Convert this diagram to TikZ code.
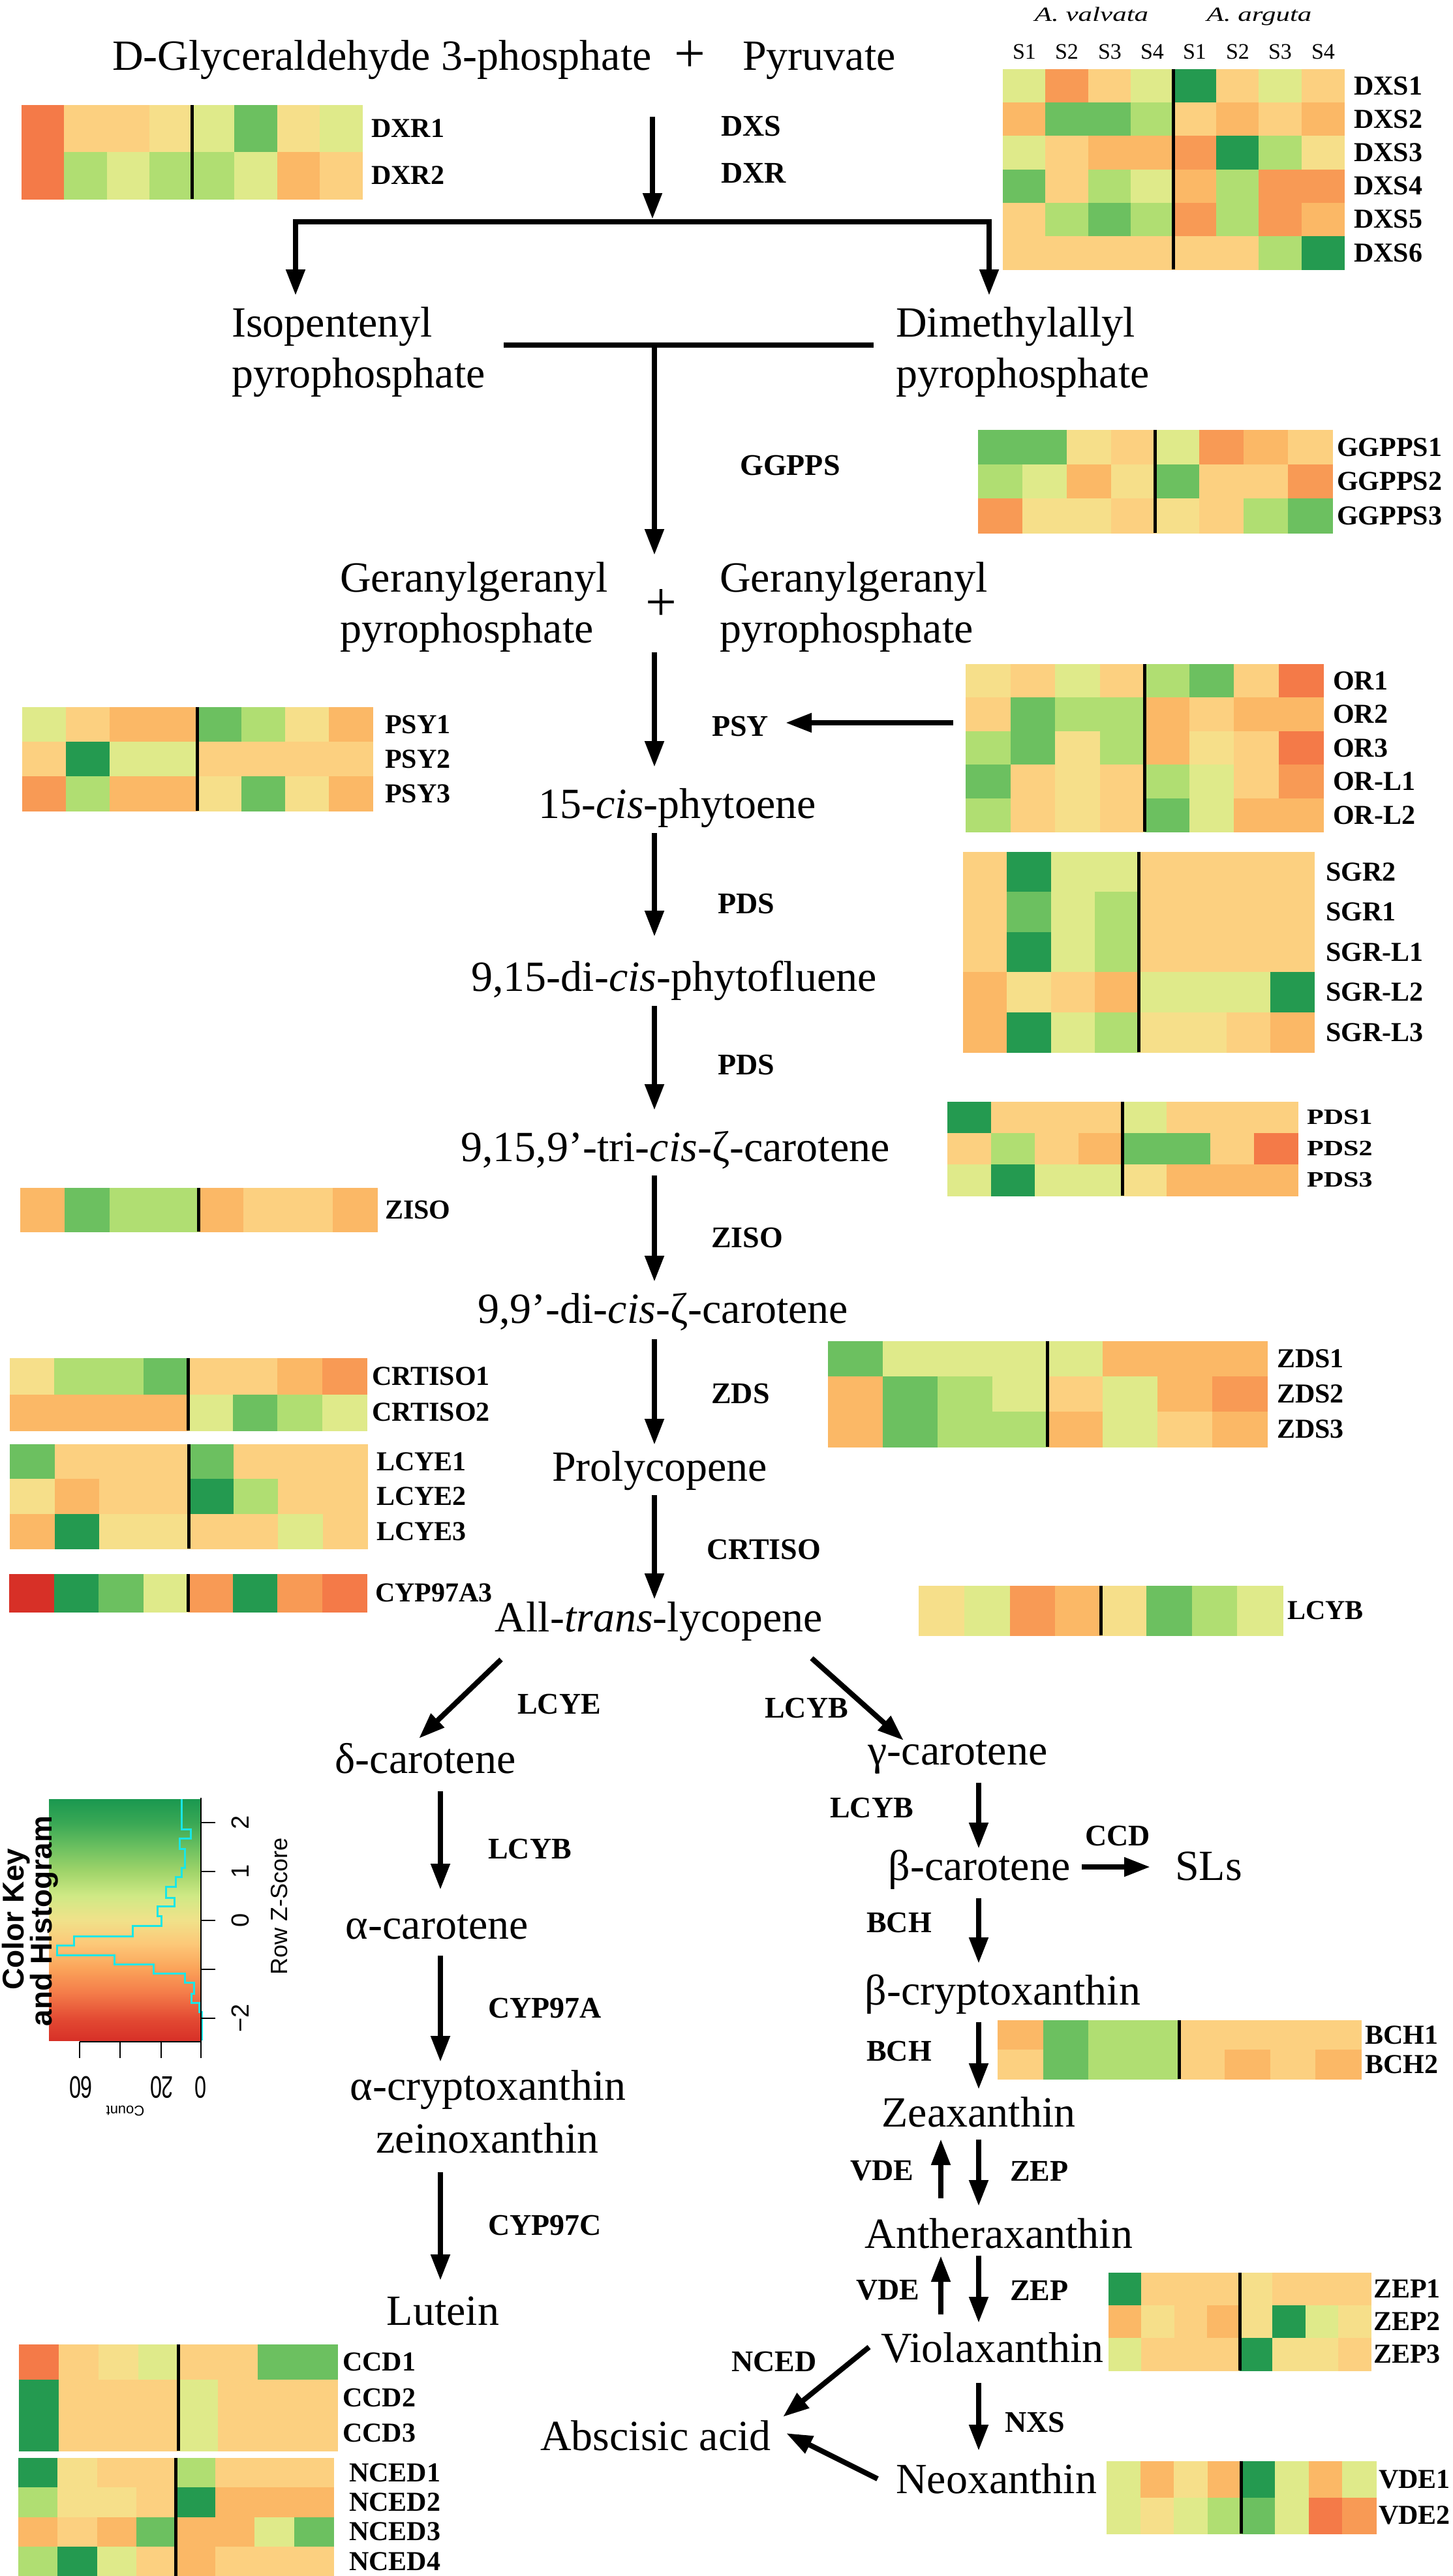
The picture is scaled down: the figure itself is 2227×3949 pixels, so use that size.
\documentclass[tikz,border=0pt]{standalone}
\usepackage{fontspec}
\setmainfont{Liberation Serif}
\newfontfamily\keyfont{Liberation Sans}
\usetikzlibrary{arrows.meta}
\definecolor{c0}{HTML}{D73027}
\definecolor{c1}{HTML}{F47A48}
\definecolor{c2}{HTML}{F89A55}
\definecolor{c3}{HTML}{FBB866}
\definecolor{c4}{HTML}{FCD080}
\definecolor{c5}{HTML}{F6DF8A}
\definecolor{c6}{HTML}{DFEA8A}
\definecolor{c7}{HTML}{B0DE72}
\definecolor{c8}{HTML}{6CC060}
\definecolor{c9}{HTML}{249A50}
\definecolor{kc0}{HTML}{D73027}
\definecolor{kc1}{HTML}{E34A33}
\definecolor{kc2}{HTML}{F47D4A}
\definecolor{kc3}{HTML}{FBA45A}
\definecolor{kc4}{HTML}{FCC878}
\definecolor{kc5}{HTML}{F0E28A}
\definecolor{kc6}{HTML}{CFE985}
\definecolor{kc7}{HTML}{A0D46A}
\definecolor{kc8}{HTML}{6CC060}
\definecolor{kc9}{HTML}{3AA855}
\definecolor{kc10}{HTML}{1A9850}
\definecolor{histc}{HTML}{19E6E6}
\pgfdeclareverticalshading{zkey}{100bp}{color(0bp)=(kc0); color(25bp)=(kc0); color(29.5bp)=(kc1); color(35bp)=(kc2); color(40bp)=(kc3); color(45bp)=(kc4); color(50bp)=(kc5); color(55bp)=(kc6); color(60bp)=(kc7); color(65bp)=(kc8); color(70bp)=(kc9); color(75bp)=(kc10); color(100bp)=(kc10)}
\newcommand{\pdsq}[1]{\scalebox{1}[0.8]{#1}}
% #1 x0, #2 y0, #3 x1, #4 y1, #5 rows, #6 label x, #7 rows list, #8 label wrapper
\newcommand{\heatmap}[8]{%
  \pgfmathsetmacro\hmw{(#3-#1)/8}%
  \pgfmathsetmacro\hmh{(#4-#2)/#5}%
  \foreach \rw/\lab [count=\kk from 0] in {#7}{%
    \foreach \hmc [count=\ii from 0] in \rw {%
      \fill[c\hmc] ({#1+\ii*\hmw},{#2+\kk*\hmh}) rectangle ({#1+(\ii+1)*\hmw+0.8},{#2+(\kk+1)*\hmh+0.8});
    }%
    \node[hlab] (h\lab) at (#6,{#2+(\kk+0.5)*\hmh}) {#8{\lab}};
  }%
  \draw[divider] ({(#1+#3)/2},#2) -- ({(#1+#3)/2},#4);
}
\begin{document}
\begin{tikzpicture}[x=1pt,y=-1pt,
  txt/.style={inner sep=0pt, font=\fontsize{66}{79}\selectfont, anchor=base},
  txtl/.style={txt, anchor=base west},
  lab/.style={inner sep=0pt, font=\fontsize{46}{50}\selectfont\bfseries, anchor=west},
  hlab/.style={inner sep=0pt, font=\fontsize{42}{46}\selectfont\bfseries, anchor=west},
  arr/.style={line width=8pt, -{Triangle[width=28pt,length=40pt]}},
  barline/.style={line width=8pt, line cap=rect},
  divider/.style={line width=5pt, black},
  keytxt/.style={inner sep=0pt, font=\keyfont\fontsize{38}{42}\selectfont},
]
\useasboundingbox (0,0) rectangle (2227,3949);
\fill[white] (0,0) rectangle (2227,3949);

% ---------------- heatmaps ----------------
\heatmap{33}{161}{555}{305}{2}{569}{{1,4,4,5,6,8,5,6}/DXR1,{1,7,6,7,7,6,3,4}/DXR2}{\mbox}
\heatmap{1537}{106}{2060}{413}{6}{2075}{%
{6,2,4,6,9,4,6,4}/DXS1,%
{3,8,8,7,4,3,4,3}/DXS2,%
{6,4,3,3,2,9,7,5}/DXS3,%
{8,4,7,6,3,7,2,2}/DXS4,%
{4,7,8,7,2,7,2,3}/DXS5,%
{4,4,4,4,4,4,7,9}/DXS6}{\mbox}
\heatmap{1499}{659}{2042}{817}{3}{2049}{{8,8,5,4,6,2,3,4}/GGPPS1,{7,6,3,5,8,4,4,2}/GGPPS2,{2,5,5,4,5,4,7,8}/GGPPS3}{\mbox}
\heatmap{34}{1084}{571}{1243}{3}{590}{{6,4,3,3,8,7,5,3}/PSY1,{4,9,6,6,4,4,4,4}/PSY2,{2,7,3,3,5,8,5,3}/PSY3}{\mbox}
\heatmap{1480}{1018}{2028}{1275}{5}{2043}{%
{5,4,6,4,7,8,4,1}/OR1,%
{4,8,7,7,3,4,3,3}/OR2,%
{7,8,5,7,3,5,4,1}/OR3,%
{8,4,5,4,7,6,4,2}/OR-L1,%
{7,4,5,4,8,6,3,3}/OR-L2}{\mbox}
\heatmap{1476}{1306}{2014}{1613}{5}{2032}{%
{4,9,6,6,4,4,4,4}/SGR2,%
{4,8,6,7,4,4,4,4}/SGR1,%
{4,9,6,7,4,4,4,4}/SGR-L1,%
{3,5,4,3,6,6,6,9}/SGR-L2,%
{3,9,6,7,5,5,4,3}/SGR-L3}{\mbox}
\heatmap{1452}{1689}{1989}{1833}{3}{2003}{{9,4,4,4,6,4,4,4}/PDS1,{4,7,4,3,8,8,4,1}/PDS2,{6,9,6,6,5,3,3,3}/PDS3}{\pdsq}
\heatmap{31}{1821}{578}{1888}{1}{590}{{3,8,7,7,3,4,4,3}/ZISO}{\mbox}
\heatmap{15}{2082}{562}{2193}{2}{570}{{5,7,7,8,4,4,3,2}/CRTISO1,{3,3,3,3,6,8,7,6}/CRTISO2}{\mbox}
\heatmap{15}{2214}{563}{2374}{3}{577}{{8,4,4,4,8,4,4,4}/LCYE1,{5,3,4,4,9,7,4,4}/LCYE2,{3,9,5,5,4,4,6,4}/LCYE3}{\mbox}
\heatmap{14}{2413}{562}{2471}{1}{575}{{0,9,8,6,2,9,2,1}/CYP97A3}{\mbox}
\heatmap{1269}{2056}{1942}{2218}{3}{1957}{{8,6,6,6,6,3,3,3}/ZDS1,{3,8,7,6,4,6,3,2}/ZDS2,{3,8,7,7,3,6,4,3}/ZDS3}{\mbox}
\heatmap{1408}{2431}{1966}{2507}{1}{1973}{{5,6,2,3,5,8,7,6}/LCYB}{\mbox}
\heatmap{1529}{3097}{2086}{3187}{2}{2092}{{3,8,7,7,4,4,4,4}/BCH1,{4,8,7,7,4,3,4,3}/BCH2}{\mbox}
\heatmap{1699}{3484}{2101}{3634}{3}{2105}{{9,4,4,4,5,4,4,4}/ZEP1,{3,5,4,3,5,9,6,5}/ZEP2,{6,4,4,4,9,5,5,4}/ZEP3}{\mbox}
\heatmap{1696}{3773}{2109}{3884}{2}{2113}{{6,3,5,3,9,6,3,6}/VDE1,{6,5,6,7,8,6,1,2}/VDE2}{\mbox}
\heatmap{29}{3594}{517}{3757}{3}{525}{{1,4,5,6,4,4,8,8}/CCD1,{9,4,4,4,6,4,4,4}/CCD2,{9,4,4,4,6,4,4,4}/CCD3}{\mbox}
\heatmap{28}{3768}{511}{3949}{4}{535}{{9,5,4,4,7,4,4,4}/NCED1,{7,5,5,4,9,3,3,3}/NCED2,{3,4,3,8,3,3,6,8}/NCED3,{7,9,6,4,3,4,4,4}/NCED4}{\mbox}

% DXS header
\node[inner sep=0pt, anchor=base, font=\fontsize{43}{50}\selectfont\itshape] (hdrV) at (1673,32) {\scalebox{1}[0.72]{A. valvata}};
\node[inner sep=0pt, anchor=base, font=\fontsize{43}{50}\selectfont\itshape] (hdrA) at (1930,32) {\scalebox{1}[0.72]{A. arguta}};
\foreach \sx/\sl [count=\si] in {1570/S1,1635/S2,1701/S3,1766/S4,1831/S1,1897/S2,1962/S3,2028/S4}
  \node[inner sep=0pt, anchor=base, font=\fontsize{34}{40}\selectfont] (hs\si) at (\sx,90) {\sl};

% ---------------- compounds ----------------
\node[txtl] (glyc) at (172,107) {D-Glyceraldehyde 3-phosphate};
\node[inner sep=0pt, font=\fontsize{85}{90}\selectfont] (plus1) at (1057,86) {+};
\node[txtl] (pyr) at (1138,107) {Pyruvate};
\node[txtl] (ipp1) at (355,516) {Isopentenyl};
\node[txtl] (ipp2) at (355,594) {pyrophosphate};
\node[txtl] (dma1) at (1373,516) {Dimethylallyl};
\node[txtl] (dma2) at (1373,594) {pyrophosphate};
\node[txtl] (gg1) at (521,907) {Geranylgeranyl};
\node[txtl] (gg2) at (521,985) {pyrophosphate};
\node[inner sep=0pt, font=\fontsize{85}{90}\selectfont] (plus2) at (1013,927) {+};
\node[txtl] (gg3) at (1103,907) {Geranylgeranyl};
\node[txtl] (gg4) at (1103,985) {pyrophosphate};
\node[txt] (phy) at (1038,1254) {15-\textit{cis}-phytoene};
\node[txt] (pfl) at (1033,1519) {9,15-di-\textit{cis}-phytofluene};
\node[txt] (zc3) at (1035,1780) {9,15,9’-tri-\textit{cis}-ζ-carotene};
\node[txt] (zc2) at (1016,2028) {9,9’-di-\textit{cis}-ζ-carotene};
\node[txt] (prl) at (1011,2270) {Prolycopene};
\node[txt] (lyc) at (1010,2501) {All-\textit{trans}-lycopene};
\node[txt] (dcar) at (652,2718) {δ-carotene};
\node[txt] (gcar) at (1468,2705) {γ-carotene};
\node[txt] (acar) at (670,2972) {α-carotene};
\node[txt] (acry) at (748,3219) {α-cryptoxanthin};
\node[txt] (zein) at (747,3300) {zeinoxanthin};
\node[txt] (lut) at (679,3564) {Lutein};
\node[txt] (bcar) at (1501,2882) {β-carotene};
\node[txtl] (sls) at (1801,2882) {SLs};
\node[txt] (bcry) at (1537,3073) {β-cryptoxanthin};
\node[txt] (zea) at (1500,3260) {Zeaxanthin};
\node[txt] (ant) at (1531,3446) {Antheraxanthin};
\node[txt] (vio) at (1521,3621) {Violaxanthin};
\node[txt] (neo) at (1527,3822) {Neoxanthin};
\node[txt] (aba) at (1005,3756) {Abscisic acid};

% ---------------- enzyme labels ----------------
\node[lab] (lDXS) at (1105,193) {DXS};
\node[lab] (lDXR) at (1105,265) {DXR};
\node[lab] (lGGPPS) at (1134,713) {GGPPS};
\node[lab] (lPSY) at (1091,1113) {PSY};
\node[lab] (lPDSa) at (1100,1385) {PDS};
\node[lab] (lPDSb) at (1100,1632) {PDS};
\node[lab] (lZISO) at (1090,1897) {ZISO};
\node[lab] (lZDS) at (1090,2136) {ZDS};
\node[lab] (lCRTISO) at (1083,2375) {CRTISO};
\node[lab] (lLCYE) at (793,2612) {LCYE};
\node[lab] (lLCYBa) at (1172,2618) {LCYB};
\node[lab] (lLCYBb) at (748,2834) {LCYB};
\node[lab] (lCYP97A) at (748,3078) {CYP97A};
\node[lab] (lCYP97C) at (748,3411) {CYP97C};
\node[lab] (lLCYBc) at (1272,2771) {LCYB};
\node[lab] (lCCD) at (1663,2814) {CCD};
\node[lab] (lBCHa) at (1328,2947) {BCH};
\node[lab] (lBCHb) at (1328,3144) {BCH};
\node[lab] (lVDEa) at (1303,3328) {VDE};
\node[lab] (lZEPa) at (1548,3328) {ZEP};
\node[lab] (lVDEb) at (1312,3511) {VDE};
\node[lab] (lZEPb) at (1548,3511) {ZEP};
\node[lab] (lNXS) at (1540,3713) {NXS};
\node[lab] (lNCED) at (1121,3620) {NCED};

% ---------------- connectors ----------------
\coordinate (a0s) at (1000,179); \coordinate (a0e) at (1000,336);
\coordinate (brL) at (453,340); \coordinate (brR) at (1516,340);
\coordinate (brLt) at (453,453); \coordinate (brRt) at (1516,453);
\coordinate (mbL) at (776,529); \coordinate (mbR) at (1335,529);
\coordinate (a1s) at (1003,529); \coordinate (a1e) at (1003,851);
\coordinate (a2s) at (1003,1000); \coordinate (a2e) at (1003,1176);
\coordinate (psys) at (1461,1108); \coordinate (psye) at (1204,1108);
\coordinate (a3s) at (1003,1277); \coordinate (a3e) at (1003,1436);
\coordinate (a4s) at (1003,1542); \coordinate (a4e) at (1003,1702);
\coordinate (a5s) at (1003,1802); \coordinate (a5e) at (1003,1965);
\coordinate (a6s) at (1003,2053); \coordinate (a6e) at (1003,2215);
\coordinate (a7s) at (1003,2292); \coordinate (a7e) at (1003,2452);
\coordinate (lEs) at (768,2544); \coordinate (lEe) at (642,2665);
\coordinate (lBs) at (1244,2542); \coordinate (lBe) at (1385,2668);
\coordinate (a8s) at (675,2746); \coordinate (a8e) at (675,2897);
\coordinate (a9s) at (675,2998); \coordinate (a9e) at (675,3161);
\coordinate (a10s) at (675,3330); \coordinate (a10e) at (675,3496);
\coordinate (b1s) at (1500,2733); \coordinate (b1e) at (1500,2834);
\coordinate (sls1) at (1658,2862); \coordinate (sls2) at (1763,2862);
\coordinate (b2s) at (1500,2910); \coordinate (b2e) at (1500,3010);
\coordinate (b3s) at (1500,3100); \coordinate (b3e) at (1500,3203);
\coordinate (v1s) at (1442,3370); \coordinate (v1e) at (1442,3279);
\coordinate (z1s) at (1500,3280); \coordinate (z1e) at (1500,3382);
\coordinate (v2s) at (1442,3548); \coordinate (v2e) at (1442,3458);
\coordinate (z2s) at (1500,3458); \coordinate (z2e) at (1500,3561);
\coordinate (nxs) at (1500,3653); \coordinate (nxe) at (1500,3757);
\coordinate (n1s) at (1332,3598); \coordinate (n1e) at (1200,3705);
\coordinate (n2s) at (1345,3800); \coordinate (n2e) at (1205,3730);

\draw[arr] (a0s) -- (a0e);
\draw[barline] (brL) -- (brR);
\draw[arr] (brL) -- (brLt);
\draw[arr] (brR) -- (brRt);
\draw[barline] (mbL) -- (mbR);
\foreach \p in {a1,a2,a3,a4,a5,a6,a7,a8,a9,a10,b1,b2,b3,v1,z1,v2,z2,nx}
  \draw[arr] (\p s) -- (\p e);
\draw[arr] (psys) -- (psye);
\draw[arr] (lEs) -- (lEe);
\draw[arr] (lBs) -- (lBe);
\draw[arr] (sls1) -- (sls2);
\draw[arr] (n1s) -- (n1e);
\draw[arr] (n2s) -- (n2e);

% ---------------- colour key ----------------
\shade[shading=zkey] (75,2758) rectangle (308,3128);
\draw[histc, line width=3pt] (278,2758) |- (292,2804) |- (275,2818) |- (283,2834) |- (278,2863) |- (269,2877) |- (254,2892) |- (267,2909) |- (241,2922) |- (247,2937) |- (203,2952) |- (113,2968) |- (87,2982) |- (175,2997) |- (235,3011) |- (283,3025) |- (297,3039) |- (293,3056) |- (305,3070) |- (309,3084) -- (309,3128);
\draw[line width=2.5pt] (308,2756) -- (308,3130) -- (122,3130);
\foreach \ty in {2794,2869,2944,3019,3094} \draw[line width=2.5pt] (308,\ty) -- (330,\ty);
\foreach \tx in {122,184,247,308} \draw[line width=2.5pt] (\tx,3130) -- (\tx,3155);
\node[keytxt, rotate=90] (k2) at (368,2794) {2};
\node[keytxt, rotate=90] (k1) at (368,2869) {1};
\node[keytxt, rotate=90] (k0) at (368,2944) {0};
\node[keytxt, rotate=90] (km2) at (368,3094) {−2};
\node[keytxt, rotate=90, font=\keyfont\fontsize{36}{40}\selectfont] (kz) at (428,2922) {Row Z-Score};
\node[keytxt, rotate=180] (k60) at (124,3200) {\scalebox{0.85}[1.25]{60}};
\node[keytxt, rotate=180] (k20) at (248,3200) {\scalebox{0.85}[1.25]{20}};
\node[keytxt, rotate=180] (kc0) at (308,3200) {\scalebox{0.85}[1.25]{0}};
\node[keytxt, rotate=180, font=\keyfont\fontsize{22}{26}\selectfont] (kcount) at (192,3236) {Count};
\node[inner sep=0pt, anchor=base, rotate=90, font=\keyfont\bfseries\fontsize{46}{52}\selectfont] (kt1) at (36,2942) {Color Key};
\node[inner sep=0pt, anchor=base, rotate=90, font=\keyfont\bfseries\fontsize{46}{52}\selectfont] (kt2) at (79,2945) {and Histogram};
\end{tikzpicture}
\end{document}
